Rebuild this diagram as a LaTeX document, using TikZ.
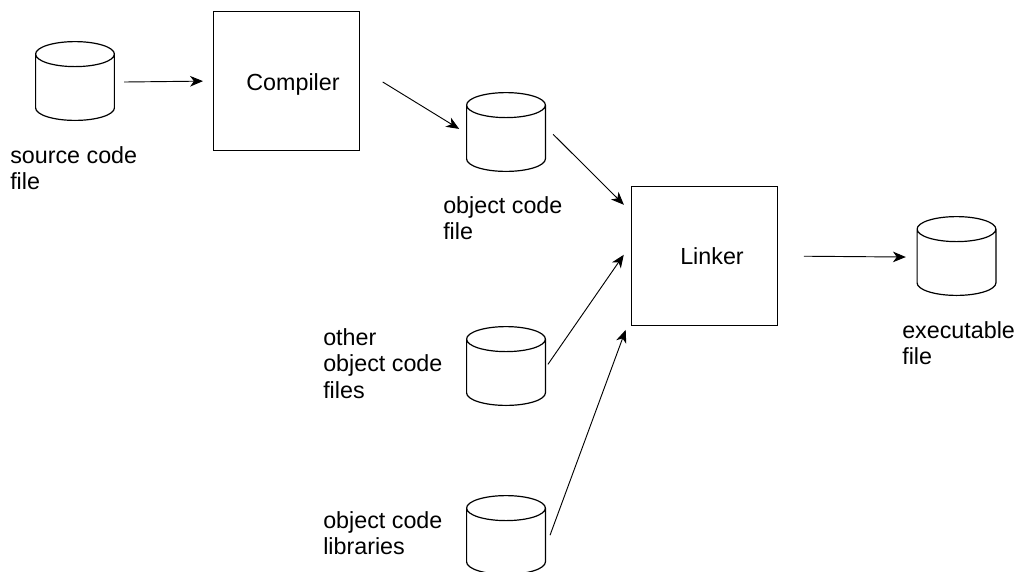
\documentclass[tikz,border=0pt]{standalone}
\usepackage{fontspec}
\setmainfont{Liberation Sans}
\usetikzlibrary{shapes.geometric,arrows.meta}
\tikzset{
  stage/.style={draw, line width=0.9pt, minimum width=3.85cm, minimum height=3.68cm, inner sep=0pt},
  disk/.style={draw, line width=0.9pt, cylinder, shape border rotate=90, aspect=1, minimum width=2.08cm, minimum height=2.08cm, inner sep=0.33cm, anchor=shape center},
  caption/.style={align=left, anchor=north west, inner sep=0pt, font=\fontsize{17.5}{20}\selectfont},
  title/.style={inner sep=0pt, font=\fontsize{17.5}{20}\selectfont},
  flow/.style={-{Stealth[length=3.4mm,width=2.8mm,inset=1mm]}, line width=0.7pt}
}
\begin{document}
\begin{tikzpicture}[x=0.0264cm,y=-0.0264cm]
\useasboundingbox (0,0) rectangle (1024,571);
\node [disk] (source) at (75,81) {};
\node [disk] (object) at (506,132) {};
\node [disk] (other) at (506,366) {};
\node [disk] (libs) at (506,535) {};
\node [disk] (exe) at (956.5,256) {};
\node [stage] (compiler) at (286.5,81) {};
\node [stage] (linker) at (704.5,256) {};
\node [title] (compilertext) at (293,84) {Compiler};
\node [title] (linkertext) at (712,256) {Linker};
\node [caption] (sourcetext) at (10,146) {source code\\file};
\node [caption] (objecttext) at (443,196) {object code\\file};
\node [caption] (othertext) at (323,328) {other\\object code\\files};
\node [caption] (libstext) at (323,511) {object code\\libraries};
\node [caption] (exetext) at (902,321) {executable\\file};
\draw [flow, shorten <=6.8pt, shorten >=7.5pt] ([yshift=0.264cm]source.east) -- (compiler.west);
\draw [flow, shorten <=20pt, shorten >=6pt] (compiler.10) -- ([yshift=0.264cm]object.west);
\draw [flow, shorten <=7.5pt, shorten >=7.5pt] ([yshift=0.42cm]object.east) -- (linker.149);
\draw [flow, shorten <=2.5pt, shorten >=9.5pt] ([yshift=0.264cm]other.east) -- (linker.171);
\draw [flow, shorten <=8.8pt, shorten >=11.5pt] (libs.east) -- (linker.219);
\draw [flow, shorten <=19.5pt, shorten >=8pt] (linker.east) -- ([yshift=0.264cm]exe.west);
\end{tikzpicture}
\end{document}
